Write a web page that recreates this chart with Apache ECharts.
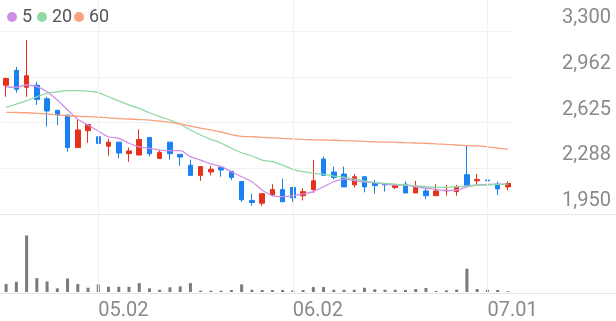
<!DOCTYPE html>
<html>
<head>
<meta charset="utf-8">
<script src="https://cdn.jsdelivr.net/npm/echarts@6/dist/echarts.min.js"></script>
<style>
html,body{margin:0;padding:0;background:#fff;}
#chart{width:616px;height:321px;}
</style>
</head>
<body>
<div id="chart"></div>
<script>
// Trading dates (2025)
const dates = ['04.18','04.21','04.22','04.23','04.24','04.25','04.28','04.29','04.30','05.02',
  '05.07','05.08','05.09','05.12','05.13','05.14','05.15','05.16','05.19','05.20',
  '05.21','05.22','05.23','05.26','05.27','05.28','05.29','05.30','06.02','06.04',
  '06.05','06.09','06.10','06.11','06.12','06.13','06.16','06.17','06.18','06.19',
  '06.20','06.23','06.24','06.25','06.26','06.27','06.30','07.01','07.02','07.03'];

// [open, close, low, high]
const ohlc = [
  [2900,2950,2815,2955],[3010,2870,2845,3035],[2885,2970,2815,3235],[2900,2795,2755,2925],
  [2800,2710,2595,2815],[2715,2680,2605,2715],[2680,2440,2410,2680],[2440,2570,2440,2645],
  [2565,2610,2475,2610],[2520,2470,2400,2555],[2450,2480,2380,2505],[2480,2400,2360,2480],
  [2395,2415,2335,2440],[2385,2500,2385,2575],[2515,2395,2375,2515],[2360,2405,2360,2425],
  [2480,2395,2350,2480],[2390,2370,2305,2390],[2310,2235,2235,2350],[2235,2300,2195,2300],
  [2260,2280,2235,2305],[2295,2275,2225,2295],[2265,2220,2200,2265],[2190,2055,2040,2190],
  [2050,2035,2010,2100],[2030,2100,2010,2100],[2090,2130,2080,2170],[2130,2040,2040,2210],
  [2145,2070,2040,2145],[2085,2115,2050,2140],[2130,2195,2105,2350],[2355,2235,2235,2375],
  [2260,2220,2205,2300],[2245,2150,2150,2300],[2165,2225,2145,2245],[2225,2150,2110,2225],
  [2180,2160,2100,2200],[2175,2165,2115,2175],[2145,2160,2135,2160],[2170,2105,2105,2190],
  [2105,2145,2105,2195],[2120,2085,2060,2145],[2085,2120,2085,2170],[2120,2125,2085,2165],
  [2115,2150,2085,2165],[2240,2160,2160,2455],[2195,2205,2170,2245],[2200,2195,2165,2290],
  [2170,2135,2090,2190],[2150,2175,2125,2190]
];

const ma5 = [2889,2885,2902,2889,2852,2791,2717,2649,2607,2562,2520,2508,2472,2446,2435,2422,2417,2417,2373,2348,
  2319,2299,2262,2225,2188,2127,2085,2078,2085,2098,2115,2151,2188,2208,2196,2188,2181,2171,2164,2164,
  2151,2140,2132,2122,2127,2151,2164,2169,2171,2171];
const ma20 = [2737,2761,2786,2815,2840,2852,2860,2860,2857,2845,2815,2784,2754,2730,2697,2668,2643,2612,2570,2533,
  2501,2472,2435,2402,2378,2348,2336,2311,2280,2262,2250,2243,2230,2221,2208,2193,2181,2176,2171,2164,
  2159,2151,2147,2147,2151,2157,2162,2164,2169,2171];
const ma60 = [2700,2699,2697,2693,2688,2682,2675,2671,2668,2664,2660,2654,2651,2647,2643,2636,2626,2614,2599,2584,
  2570,2555,2536,2523,2520,2516,2512,2508,2505,2501,2498,2496,2494,2491,2489,2486,2483,2481,2479,2476,
  2474,2472,2468,2464,2459,2455,2452,2446,2437,2427];

const volumes = [80000,103000,573000,140000,107000,37000,137000,80000,43000,77000,
  53000,53000,53000,90000,37000,23000,47000,57000,90000,13000,
  13000,13000,20000,77000,23000,20000,20000,20000,17000,20000,
  50000,50000,23000,23000,23000,43000,27000,23000,23000,20000,
  30000,40000,10000,17000,23000,237000,30000,23000,20000,7000];

const maNames = ['5','20','60'];
const priceTickLabels = ['1,950','2,288','2,625','2,962','3,300'];
const priceMin = 1950, priceStep = 337.5, priceTop = 3529;
const volumeMax = 790000;
const monthStartDates = ['05.02','06.02','07.01'];

const UP = '#e6321c', DOWN = '#1a80f4';
const MA_COLORS = ['#cf8fe8','#8fd9a3','#f8a27e'];
const GRID_C = '#f1f1f1', LABEL_C = '#8a8a8a';
const legendLefts = [2, 32, 69];

const chart = echarts.init(document.getElementById('chart'), null, {renderer:'canvas'});
const vLine = {
  silent: true, symbol: ['none','none'], animation: false,
  label: {show: false}, emphasis: {disabled: true},
  lineStyle: {color: GRID_C, type: 'solid', width: 1},
  data: monthStartDates.map(d => ({xAxis: d}))
};

chart.setOption({
  animation: false,
  backgroundColor: '#fff',
  legend: maNames.map((n, i) => ({
    left: legendLefts[i], top: 3, icon: 'circle', itemWidth: 10, itemHeight: 10,
    textStyle: {fontFamily: 'Roboto', fontSize: 18, color: '#555'},
    data: [n], selectedMode: false
  })),
  grid: [
    {left: 1, width: 512, top: 0, height: 214},
    {left: 1, width: 512, top: 214, height: 79},
    {left: 0, right: 0, top: 214, height: 79}
  ],
  xAxis: [
    {type: 'category', data: dates, gridIndex: 0, boundaryGap: true,
      axisLine: {show: false}, axisTick: {show: false}, axisLabel: {show: false}, splitLine: {show: false}},
    {type: 'category', data: dates, gridIndex: 1, boundaryGap: true,
      axisLine: {show: false}, axisTick: {show: false}, splitLine: {show: false},
      axisLabel: {show: true, align: 'left', margin: 9, fontFamily: 'Roboto', fontSize: 20, color: LABEL_C,
        interval: (i, v) => monthStartDates.indexOf(v) >= 0}},
    {type: 'value', gridIndex: 2, min: 0, max: 1, position: 'bottom',
      axisLine: {show: true, lineStyle: {color: '#e6e6e6'}}, axisTick: {show: false}, axisLabel: {show: false}, splitLine: {show: false}},
    {type: 'value', gridIndex: 2, min: 0, max: 1, position: 'top',
      axisLine: {show: true, lineStyle: {color: '#e6e6e6'}}, axisTick: {show: false}, axisLabel: {show: false}, splitLine: {show: false}}
  ],
  yAxis: [
    {type: 'value', gridIndex: 0, position: 'right', min: priceMin, max: priceTop, interval: priceStep,
      axisLine: {show: false}, axisTick: {show: false},
      splitLine: {show: true, showMaxLine: false, lineStyle: {color: GRID_C}},
      axisLabel: {show: true, showMaxLabel: false, inside: false, margin: 98, align: 'right', verticalAlign: 'bottom',
        lineHeight: 20, padding: [0,0,3,0],
        fontFamily: 'Roboto', fontSize: 20, color: LABEL_C,
        formatter: v => { const i = Math.round((v - priceMin) / priceStep); return (i >= 0 && i < priceTickLabels.length && Math.abs(v - (priceMin + i*priceStep)) < 1) ? priceTickLabels[i] : ''; }}},
    {type: 'value', gridIndex: 1, min: 0, max: volumeMax, show: false},
    {type: 'value', gridIndex: 2, min: 0, max: 1, show: false}
  ],
  series: [
    {type: 'candlestick', name: 'price', xAxisIndex: 0, yAxisIndex: 0, data: ohlc, barWidth: 5,
      itemStyle: {color: UP, color0: DOWN, borderColor: UP, borderColor0: DOWN, borderWidth: 1},
      markLine: vLine, z: 3},
    {type: 'line', name: maNames[0], xAxisIndex: 0, yAxisIndex: 0, data: ma5, smooth: 0.3, symbol: 'none',
      lineStyle: {width: 1.3, color: MA_COLORS[0]}, itemStyle: {color: MA_COLORS[0]}, z: 4},
    {type: 'line', name: maNames[1], xAxisIndex: 0, yAxisIndex: 0, data: ma20, smooth: 0.3, symbol: 'none',
      lineStyle: {width: 1.3, color: MA_COLORS[1]}, itemStyle: {color: MA_COLORS[1]}, z: 4},
    {type: 'line', name: maNames[2], xAxisIndex: 0, yAxisIndex: 0, data: ma60, smooth: 0.3, symbol: 'none',
      lineStyle: {width: 1.3, color: MA_COLORS[2]}, itemStyle: {color: MA_COLORS[2]}, z: 4},
    {type: 'bar', name: 'vol', xAxisIndex: 1, yAxisIndex: 1, data: volumes, barWidth: 3,
      itemStyle: {color: '#7a7a7a'}, markLine: vLine}
  ]
});
</script>
</body>
</html>
